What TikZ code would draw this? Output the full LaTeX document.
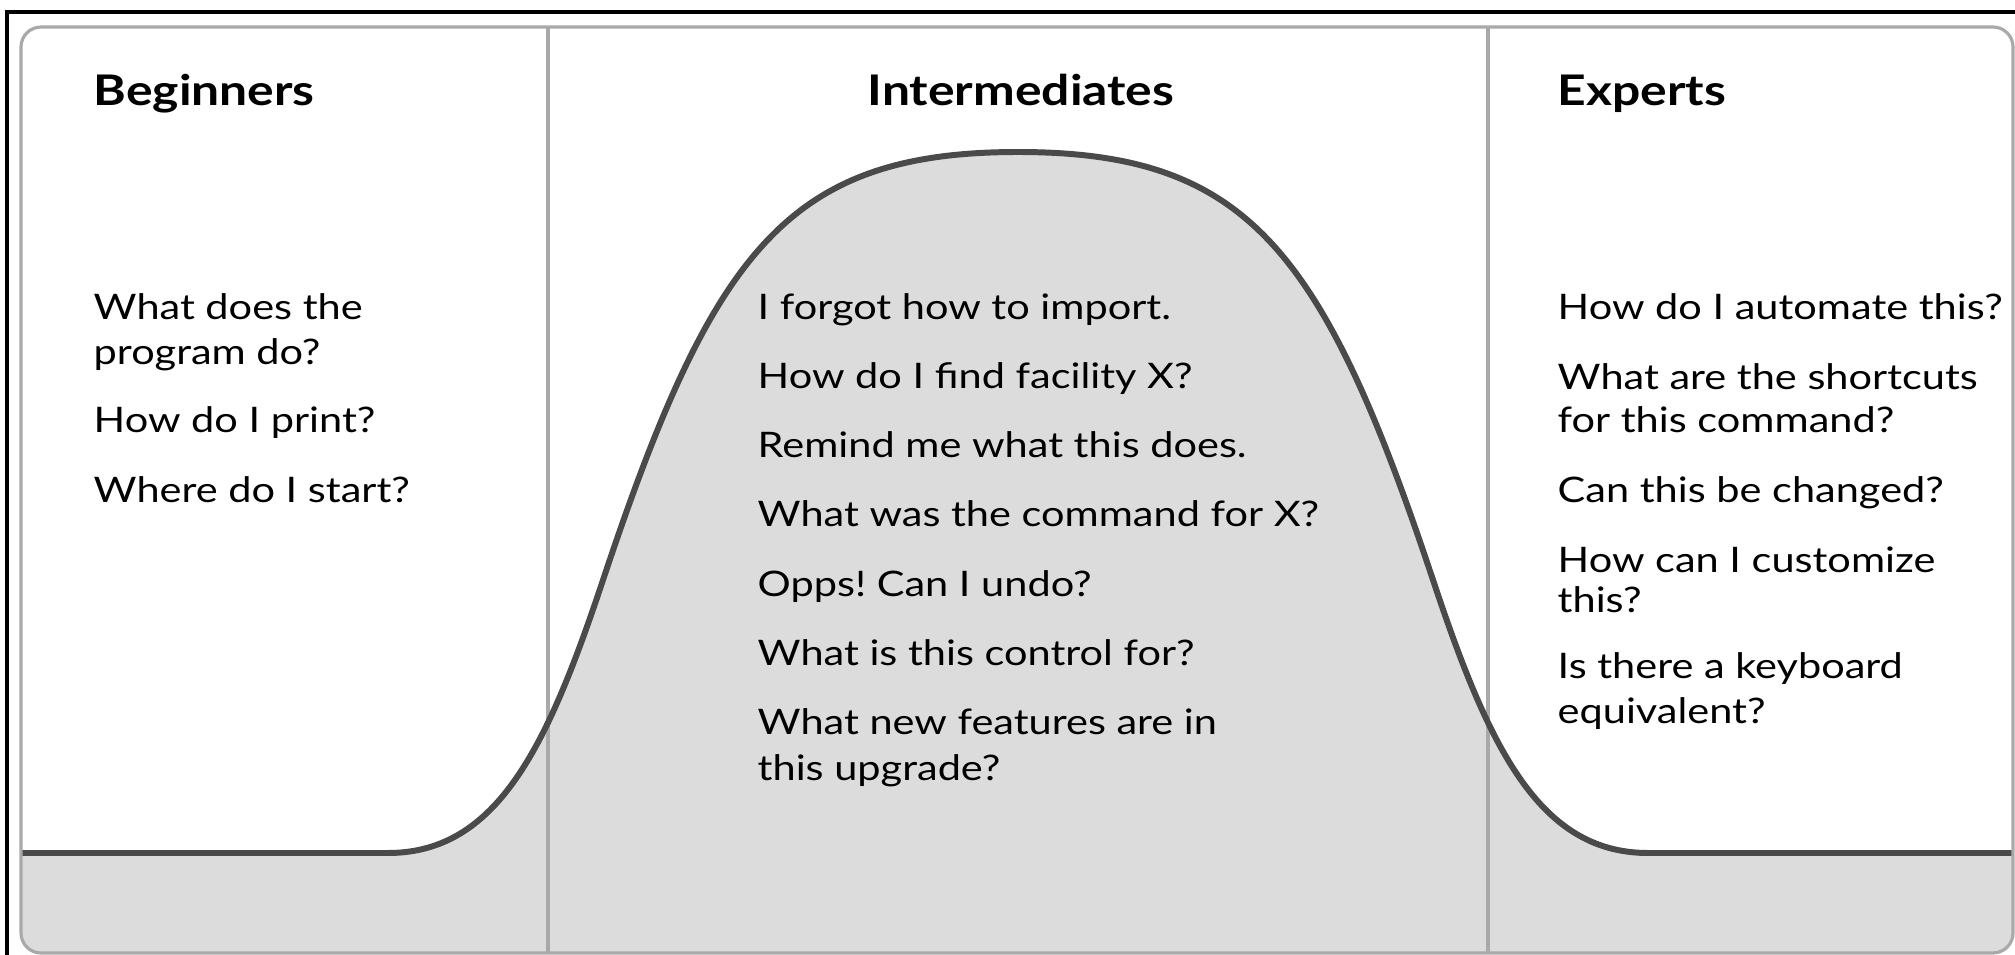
\documentclass[tikz,border=0pt]{standalone}
\usepackage{fontspec}
\setmainfont{Lato}[FakeStretch=1.18]
\definecolor{bellfill}{HTML}{DCDCDC}
\definecolor{bellline}{HTML}{4A4A4A}
\definecolor{rulegray}{HTML}{A9A9A9}
\frenchspacing

\begin{document}
\begin{tikzpicture}[x=0.01cm, y=-0.01cm,
         heading/.style = {font=\fontsize{12}{14}\selectfont\bfseries, inner sep=0pt},
         ask/.style = {font=\fontsize{10}{12}\selectfont, inner sep=0pt, anchor=base west},
         divider/.style = {draw=rulegray, line width=1pt},
         bell/.style = {draw=bellline, line width=1.7pt, line cap=round}
]
      \useasboundingbox (0,0) rectangle (2015,955);

      % curve points
      \coordinate (l0) at (21,853);
      \coordinate (l1) at (388,853);
      \coordinate (l2) at (603,580);
      \coordinate (top) at (1018,152);
      \coordinate (r2) at (1433,580);
      \coordinate (r1) at (1648,853);
      \coordinate (r0) at (2013,853);

      % panel and the area under the curve
      \fill[white, rounded corners=0.2cm] (21,27) rectangle (2013,953);
      \begin{scope}
         \clip[rounded corners=0.2cm] (21,27) rectangle (2013,953);
         \fill[bellfill] (l0) -- (l1)
            .. controls (498,853) and (548,745) .. (l2)
            .. controls (713,250) and (788,152) .. (top)
            .. controls (1248,152) and (1323,250) .. (r2)
            .. controls (1488,745) and (1538,853) .. (r1)
            -- (r0) -- (2013,960) -- (21,960) -- cycle;
         \draw[divider] (548,27) -- (548,953);
         \draw[divider] (1488,27) -- (1488,953);
         \draw[bell] (l0) -- (l1)
            .. controls (498,853) and (548,745) .. (l2)
            .. controls (713,250) and (788,152) .. (top)
            .. controls (1248,152) and (1323,250) .. (r2)
            .. controls (1488,745) and (1538,853) .. (r1)
            -- (r0);
      \end{scope}
      \draw[rulegray, line width=0.9pt, rounded corners=0.2cm] (21,27) rectangle (2013,953);

      % outer frame
      \draw[line width=1.2pt] (7,960) -- (7,12) -- (2020,12);

      % headings
      \node[heading, anchor=base west] (hbeg) at (93,106)   {Beginners};
      \node[heading, anchor=base]      (hmid) at (1021,106) {Intermediates};
      \node[heading, anchor=base west] (hexp) at (1557,106) {Experts};

      % beginners
      \node[ask] (beg1a) at (93,320) {What does the};
      \node[ask] (beg1b) at (93,365) {program do?};
      \node[ask] (beg2)  at (93,433) {How do I print?};
      \node[ask] (beg3)  at (93,503) {Where do I start?};

      % intermediates
      \node[ask] (mid1)  at (757,320) {I forgot how to import.};
      \node[ask] (mid2)  at (757,389) {How do I find facility X?};
      \node[ask] (mid3)  at (757,458) {Remind me what this does.};
      \node[ask] (mid4)  at (757,527) {What was the command for X?};
      \node[ask] (mid5)  at (757,596) {Opps! Can I undo?};
      \node[ask] (mid6)  at (757,665) {What is this control for?};
      \node[ask] (mid7a) at (757,734) {What new features are in};
      \node[ask] (mid7b) at (757,780) {this upgrade?};

      % experts
      \node[ask] (exp1)  at (1557,320) {How do I automate this?};
      \node[ask] (exp2a) at (1557,390) {What are the shortcuts};
      \node[ask] (exp2b) at (1557,433) {for this command?};
      \node[ask] (exp3)  at (1557,503) {Can this be changed?};
      \node[ask] (exp4a) at (1557,572) {How can I customize};
      \node[ask] (exp4b) at (1557,613) {this?};
      \node[ask] (exp5a) at (1557,678) {Is there a keyboard};
      \node[ask] (exp5b) at (1557,723) {equivalent?};
\end{tikzpicture}
\end{document}
